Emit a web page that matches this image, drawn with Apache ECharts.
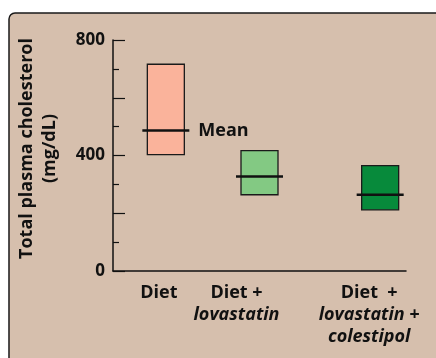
<!DOCTYPE html>
<html>
<head>
<meta charset="utf-8">
<script src="https://cdn.jsdelivr.net/npm/echarts@6/dist/echarts.min.js"></script>
<style>
  html, body { margin: 0; padding: 0; background: #fff; }
  #main { width: 436px; height: 358px; }
</style>
</head>
<body>
<div id="main"></div>
<script>
// data
var categories = ['Diet', 'Diet + lovastatin', 'Diet + lovastatin + colestipol'];
var lowValues = [403, 264, 212];
var highValues = [716, 417, 365];
var meanValues = [487, 327, 264];
var yTickLabels = ['0', '400', '800'];

var boxColors = ['#fab39b', '#83c983', '#078a3b'];
// label lines for each category (rich text, i = italic)
var categoryLines = [
  ['Diet'],
  ['Diet +', '{i|lovastatin}'],
  ['Diet  +', '{i|lovastatin +}', '{i|colestipol}']
];
// small per-box pixel nudges, the original isn't evenly spaced
var boxShift = [4, 0, 23];
var labelShift = [-3, -23, 12];

var chart = echarts.init(document.getElementById('main'));
var font = '"Open Sans", "DejaVu Sans", sans-serif';
var fs = 18;

var option = {
  backgroundColor: '#fff',
  animation: false,
  graphic: [{
    type: 'rect',
    z: -10,
    shape: { x: 9, y: 13, width: 440, height: 360, r: 6 },
    style: { fill: '#d6bfad', stroke: '#1a1a1a', lineWidth: 1.5 }
  }],
  grid: { left: 113, top: 40, right: 30, bottom: 87 },
  xAxis: {
    type: 'category',
    data: categories,
    axisLine: { lineStyle: { color: '#111', width: 1.5 } },
    axisTick: { show: false },
    axisLabel: { show: false }
  },
  yAxis: {
    type: 'value',
    min: 0,
    max: 800,
    interval: 200,
    name: 'Total plasma cholesterol\n(mg/dL)',
    nameLocation: 'middle',
    nameGap: 52,
    nameTextStyle: {
      fontFamily: font, fontWeight: 'bold', fontSize: fs,
      color: '#111', lineHeight: 23, padding: [0, 0, 0, 14]
    },
    axisLine: { show: true, lineStyle: { color: '#111', width: 1.5 } },
    axisTick: { show: true, inside: true, length: 12, lineStyle: { color: '#111', width: 1.2 } },
    minorTick: { show: true, splitNumber: 2, length: 6, lineStyle: { color: '#111', width: 1.2 } },
    splitLine: { show: false },
    axisLabel: {
      margin: 8,
      fontFamily: font, fontWeight: 'bold', fontSize: 17, color: '#111',
      formatter: function (v) {
        var s = String(v);
        return yTickLabels.indexOf(s) >= 0 ? s : '';
      }
    }
  },
  series: [{
    type: 'custom',
    clip: false,
    data: categories.map(function (c, i) {
      return [i, lowValues[i], highValues[i], meanValues[i]];
    }),
    renderItem: function (params, api) {
      var i = api.value(0);
      var lo = api.coord([i, api.value(1)]);
      var hi = api.coord([i, api.value(2)]);
      var mn = api.coord([i, api.value(3)]);
      var base = api.coord([i, 0]);
      var cx = lo[0] + boxShift[i];
      var w = 37;
      var children = [
        {
          type: 'rect',
          shape: { x: cx - w / 2, y: hi[1], width: w, height: lo[1] - hi[1] },
          style: { fill: boxColors[i], stroke: '#1a1a1a', lineWidth: 1.3 }
        },
        {
          type: 'line',
          shape: { x1: cx - w / 2 - 5, y1: mn[1], x2: cx + w / 2 + 5, y2: mn[1] },
          style: { stroke: '#111', lineWidth: 2.5 }
        },
        {
          type: 'text',
          style: {
            text: categoryLines[i].join('\n'),
            x: base[0] + labelShift[i],
            y: base[1] + 11,
            align: 'center',
            verticalAlign: 'top',
            fontFamily: font, fontWeight: 'bold', fontSize: fs,
            lineHeight: 22,
            fill: '#111',
            rich: {
              i: { fontFamily: font, fontWeight: 'bold', fontStyle: 'italic', fontSize: fs, lineHeight: 22, color: '#111' }
            }
          }
        }
      ];
      if (i === 0) {
        children.push({
          type: 'text',
          style: {
            text: 'Mean',
            x: cx + w / 2 + 14,
            y: mn[1],
            align: 'left',
            verticalAlign: 'middle',
            fontFamily: font, fontWeight: 'bold', fontSize: fs,
            fill: '#111'
          }
        });
      }
      return { type: 'group', children: children };
    }
  }]
};

chart.setOption(option);
</script>
</body>
</html>
